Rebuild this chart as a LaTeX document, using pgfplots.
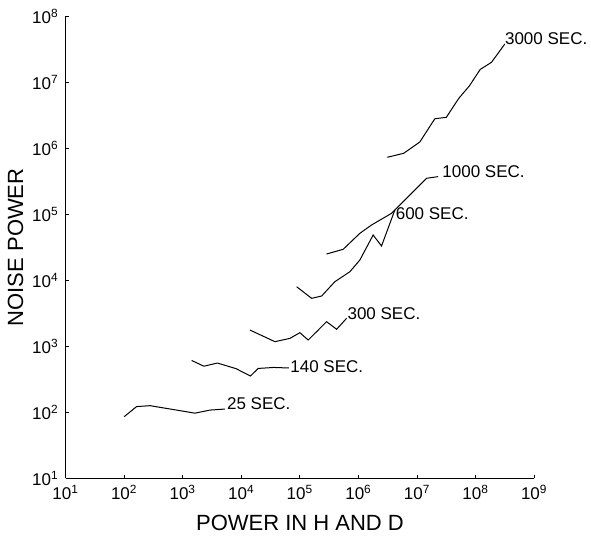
\documentclass[border=0pt]{standalone}
\usepackage{fontspec}
\setmainfont{Liberation Sans}
\usepackage{pgfplots}
\pgfplotsset{compat=1.18}
\begin{document}
\begin{tikzpicture}
\useasboundingbox (-32.85pt,-28.85pt) rectangle (262.65pt,239.15pt);
\begin{axis}[
  at={(0,0)}, anchor=south west,
  scale only axis, width=234.3pt, height=231pt,
  xmode=log, ymode=log,
  xmin=1e1, xmax=1e9, ymin=1e1, ymax=1e8,
  axis x line*=bottom, axis y line*=left,
  axis line style={line width=0.5pt, black},
  xminorticks=false, yminorticks=false,
  xtick={1e1,1e2,1e3,1e4,1e5,1e6,1e7,1e8,1e9},
  xticklabels={10\textsuperscript{1},10\textsuperscript{2},10\textsuperscript{3},10\textsuperscript{4},10\textsuperscript{5},10\textsuperscript{6},10\textsuperscript{7},10\textsuperscript{8},10\textsuperscript{9}},
  ytick={1e1,1e2,1e3,1e4,1e5,1e6,1e7,1e8},
  yticklabels={10\textsuperscript{1},10\textsuperscript{2},10\textsuperscript{3},10\textsuperscript{4},10\textsuperscript{5},10\textsuperscript{6},10\textsuperscript{7},10\textsuperscript{8}},
  major tick length=1.5pt,
  tick style={line width=0.5pt, black},
  tick label style={font=\fontsize{8.5}{10}\selectfont},
  xlabel={POWER IN H AND D}, ylabel={NOISE POWER},
  label style={font=\fontsize{11}{13}\selectfont},
  ylabel shift=-2.5pt, xlabel shift=1pt,
  clip=false,
]
% 25 SEC
\addplot[black, line width=0.5pt] coordinates {
(100,86) (162,122) (275,126) (783,108) (1610,97) (2900,108) (5220,112)};
% 140 SEC
\addplot[black, line width=0.5pt] coordinates {
(1413,610) (2290,499) (3890,558) (8050,459) (14260,355) (19360,462) (35900,478) (64600,469)};
% 300 SEC
\addplot[black, line width=0.5pt] coordinates {
(13960,1766) (37300,1175) (67300,1318) (99500,1607) (138000,1245) (192000,1663) (284000,2360) (422000,1811) (624000,2655)};
% 600 SEC
\addplot[black, line width=0.5pt] coordinates {
(87500,8000) (158000,5330) (234000,5780) (394000,9530) (711000,13490) (1052000,20300) (1774000,48500) (2466000,33100) (4160000,116000)};
% 1000 SEC
\addplot[black, line width=0.5pt] coordinates {
(284000,25000) (546000,29500) (1052000,51500) (1667000,68900) (3660000,103500) (7500000,196000) (14450000,351000) (22800000,372000)};
% 3000 SEC
\addplot[black, line width=0.5pt] coordinates {
(3100000,731000) (5890000,840000) (11100000,1245000) (20000000,2800000) (31500000,2950000) (51500000,5730000) (77800000,8800000) (119000000,15630000) (186000000,20100000) (314000000,38000000)};
\begin{scope}[every node/.style={anchor=west, inner sep=0.3pt, font=\fontsize{8.5}{10}\selectfont}]
\node at (axis cs:5480,137) {25 SEC.};
\node at (axis cs:66000,490) {140 SEC.};
\node at (axis cs:624000,3160) {300 SEC.};
\node at (axis cs:4160000,103500) {600 SEC.};
\node at (axis cs:26000000,442000) {1000 SEC.};
\node at (axis cs:305000000,45300000) {3000 SEC.};
\end{scope}
\end{axis}
\end{tikzpicture}
\end{document}
